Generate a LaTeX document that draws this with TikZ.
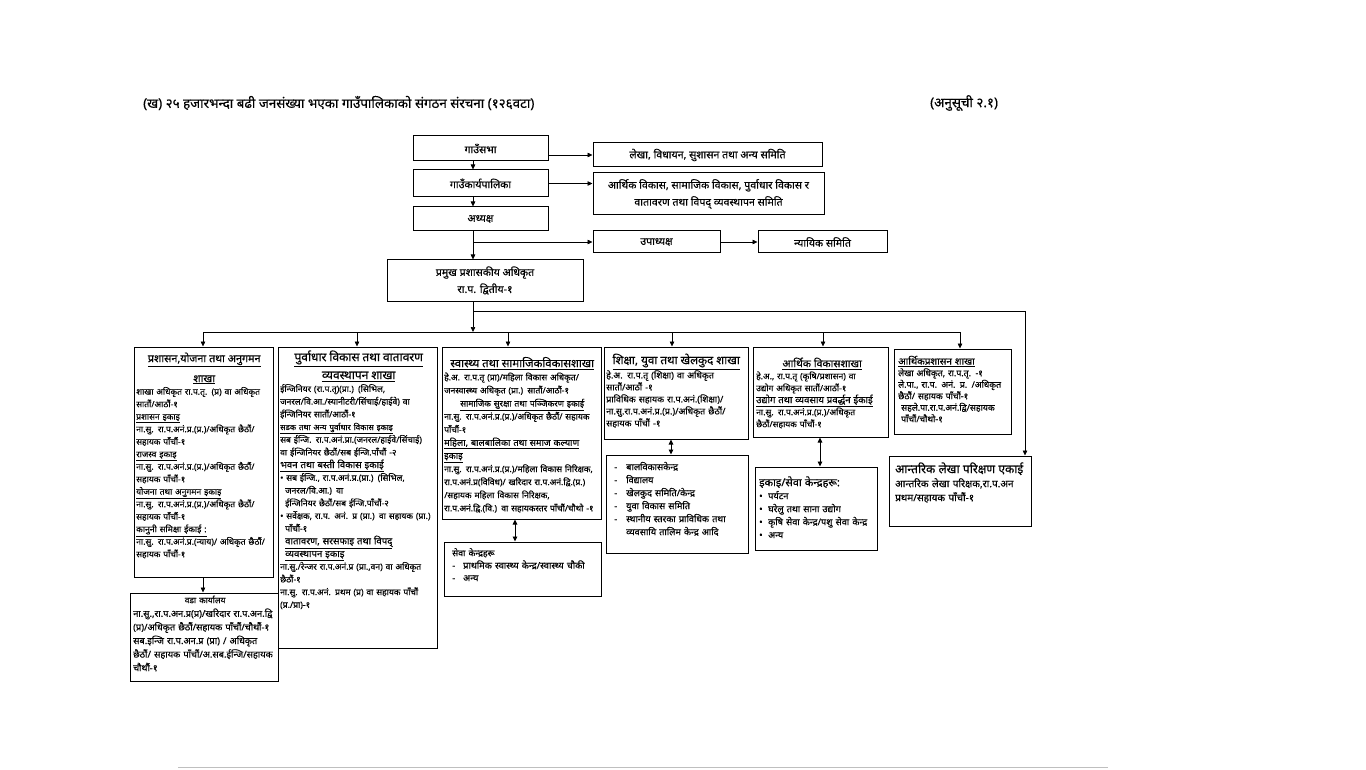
\documentclass[tikz,border=0pt]{standalone}
\usepackage{fontspec}
\setmainfont[Script=Devanagari, FakeBold=0.3]{Noto Sans}
\usetikzlibrary{arrows.meta,fit}
\lineskiplimit=-100pt
\newcommand\ul[1]{\underline{#1}}
\newcommand\bul[1]{\textbf{\underline{#1}}}
\newcommand\fl{\rule{0pt}{12pt}}
\newcommand\fs[2]{\fontsize{#1}{#2}\selectfont}
\newcommand\cl[3]{{\centering\fontsize{#1}{#2}\selectfont #3\par}}
\newcommand\sz[3]{{\fontsize{#1}{#2}\selectfont #3}}
\newcommand\ind{\hspace*{5pt}}
\newcommand\dsh{\makebox[12pt][l]{-}}
\newcommand\bt{\makebox[9pt][l]{•}}
\begin{document}
\begin{tikzpicture}[x=1pt,y=-1pt,
 box/.style={draw, line width=1pt, inner sep=0pt},
 txt/.style={anchor=north west, inner sep=0pt, align=left},
 lab/.style={inner sep=0pt, font=\fs{10.6}{17}, align=center},
 arr/.style={-{Triangle[length=5pt,width=4.5pt]}, line width=0.7pt},
 darr/.style={{Triangle[length=5pt,width=4.5pt]}-{Triangle[length=5pt,width=4.5pt]}, line width=0.9pt}]
\useasboundingbox (0,0) rectangle (1366,770);
\fill[white] (0,0) rectangle (1366,770);
\draw[gray!50, line width=0.8pt] (178,767) -- (1108,767);

% title
\node[anchor=west, inner sep=0pt, font=\fs{13.4}{16}] (title) at (143,103) {(ख) २५ हजारभन्दा बढी जनसंख्या भएका गाउँपालिकाको संगठन संरचना (१२६वटा)};
\node[anchor=west, inner sep=0pt, font=\fs{13.4}{16}] (anusuchi) at (930,103) {(अनुसूची २.१)};

% top boxes
\node[box, fit={(413,136) (548,161)}] (sabha) {};
\node[lab] at (sabha) {गाउँसभा};
\node[box, fit={(413,170) (548,197)}] (karya) {};
\node[lab] at (karya) {गाउँकार्यपालिका};
\node[box, fit={(413,207) (548,231)}] (adh) {};
\node[lab] at (adh) {अध्यक्ष};
\node[box, fit={(593,143) (822,167)}] (lekha) {};
\node[lab] at (lekha) {लेखा, विधायन, सुशासन तथा अन्य समिति};
\node[box, fit={(593,173) (824,215)}] (samiti) {};
\node[lab] at (samiti) {आर्थिक विकास, सामाजिक विकास, पुर्वाधार विकास र\\वातावरण तथा विपद् व्यवस्थापन समिति};
\node[box, fit={(593,231) (720,253)}] (upa) {};
\node[lab] at (upa) {उपाध्यक्ष};
\node[box, fit={(758,231) (887,253)}] (nyayik) {};
\node[lab] at (nyayik) {न्यायिक समिति};
\node[box, fit={(387,260) (583,301)}] (pramukh) {};
\node[lab] at (pramukh) {प्रमुख प्रशासकीय अधिकृत\\रा.प. द्वितीय-१};

\coordinate (cx) at (473,0);
\coordinate (jr) at (473,311);
\coordinate (rx) at (1025,0);
\draw[arr] (sabha.south -| cx) -- (karya.north -| cx);
\draw[arr] (karya.south -| cx) -- (adh.north -| cx);
\draw[arr] (adh.south -| cx) -- (pramukh.north -| cx);
\draw[arr] (sabha.east |- lekha.west) -- (lekha.west);
\draw[arr] (karya.east) -- (karya.east -| samiti.west);
\draw[arr] (cx |- upa.west) -- (upa.west);
\draw[arr] (upa.east) -- (nyayik.west);

% branch boxes
\node[box, fit={(134,347) (273,577)}] (b1) {};
\node[box, fit={(278,347) (437,648)}] (b2) {};
\node[box, fit={(442,347) (601,519)}] (b3) {};
\node[box, fit={(604,347) (748,439)}] (b4) {};
\node[box, fit={(753,347) (888,437)}] (b5) {};
\node[box, fit={(894,349) (1011,434)}] (b6) {};
\node[box, fit={(889,456) (1031,526)}] (antarik) {};
\node[box, fit={(606,455) (748,553)}] (bal) {};
\node[box, fit={(755,467) (877,550)}] (ikai) {};
\node[box, fit={(444,542) (601,596)}] (seva) {};
\node[box, fit={(130,593) (278,681)}] (wada) {};

% connectors
\coordinate (bus) at (0,332);
\draw[arr] (pramukh.south -| cx) -- (cx |- bus);
\draw[line width=0.7pt] (203,332) -- (960,332);
\draw[arr] (jr) -| (rx |- antarik.north);
\foreach \x/\n in {203/b1, 357/b2, 508/b3, 672/b4, 823/b5, 960/b6}
  \draw[arr] (\x,332) -- (\x,0 |- \n.north);
\draw[darr] (671,0 |- b4.south) -- (671,0 |- bal.north);
\draw[darr] (820,0 |- b5.south) -- (820,0 |- ikai.north);
\draw[darr] (515,0 |- b3.south) -- (515,0 |- seva.north);
\draw[arr] (203,0 |- b1.south) -- (203,0 |- wada.north);

% box 1
\node[txt, text width=136, font=\fs{8.6}{12.5}] (t1) at (136,350) {%
\cl{10.8}{20}{\fl\ul{प्रशासन,योजना तथा अनुगमन}\\\ul{शाखा}}
शाखा अधिकृत रा.प.तृ. (प्र) वा अधिकृत\\
सातौं/आठौं-१\\
\bul{प्रशासन इकाइ}\\
ना.सु. रा.प.अनं.प्र.(प्र.)/अधिकृत छैठौं/\\
सहायक पाँचौं-१\\
\bul{राजस्व इकाइ}\\
ना.सु. रा.प.अनं.प्र.(प्र.)/अधिकृत छैठौं/\\
सहायक पाँचौं-१\\
\bul{योजना तथा अनुगमन इकाइ}\\
ना.सु. रा.प.अनं.प्र.(प्र.)/अधिकृत छैठौं/\\
सहायक पाँचौं-१\\
\bul{कानुनी समिक्षा ईकाई :}\\
ना.सु. रा.प.अनं.प्र.(न्याय)/ अधिकृत छैठौं/\\
सहायक पाँचौं-१};

% box 2
\node[txt, text width=157, font=\fs{8.6}{12.7}] (t2) at (280,349) {%
\cl{12}{18}{\fl\ul{पुर्वाधार विकास तथा वातावरण}\\\ul{व्यवस्थापन शाखा}}
ईन्जिनियर (रा.प.तृ)(प्रा.) (सिभिल,\\
जनरल/वि.आ./स्यानीटरी/सिंचाई/हाईवे) वा\\
ईन्जिनियर सातौं/आठौं-१\\
\sz{8}{12}{\bul{सडक तथा अन्य पुर्वाधार विकास इकाइ}}\\
सब ईन्जि. रा.प.अनं.प्रा.(जनरल/हाईवे/सिंचाई)\\
वा ईन्जिनियर छैठौं/सब ईन्जि.पाँचौं -२\\
\sz{9.6}{12}{\bul{भवन तथा बस्ती विकास इकाई}}\\
• सब ईन्जि., रा.प.अनं.प्र.(प्रा.) (सिभिल,\\
\ind जनरल/वि.आ.) वा\\
\ind ईन्जिनियर छैठौं/सब ईन्जि.पाँचौं-२\\
• सर्वेक्षक, रा.प. अनं. प्र (प्रा.) वा सहायक (प्रा.)\\
\ind पाँचौं-१\\
\ind\sz{9.6}{12}{\bul{वातावरण, सरसफाइ तथा विपद्}}\\
\ind\sz{9.6}{12}{\bul{व्यवस्थापन इकाइ}}\\
ना.सु./रेन्जर रा.प.अनं.प्र (प्रा.,वन) वा अधिकृत\\
छैठौं-१\\
ना.सु. रा.प.अनं. प्रथम (प्र) वा सहायक पाँचौं\\
(प्र./प्रा)-१};

% box 3
\node[txt, text width=156, font=\fs{8.6}{13.1}] (t3) at (444,355) {%
\cl{11.4}{14}{\fl\ul{स्वास्थ्य तथा सामाजिकविकासशाखा}}
हे.अ. रा.प.तृ (प्रा)/महिला विकास अधिकृत/\\
जनस्वास्थ्य अधिकृत (प्रा.) सातौं/आठौं-१\par
\cl{8.6}{13.1}{\bul{सामाजिक सुरक्षा तथा पञ्जिकरण इकाई}}
ना.सु. रा.प.अनं.प्र.(प्र.)/अधिकृत छैठौं/ सहायक\\
पाँचौं-१\\
\sz{9.2}{12}{\bul{महिला, बालबालिका तथा समाज कल्याण}}\\
\sz{9.2}{12}{\bul{इकाइ}}\\
ना.सु. रा.प.अनं.प्र.(प्र.)/महिला विकास निरिक्षक,\\
रा.प.अनं.प्र(विविध)/ खरिदार रा.प.अनं.द्वि.(प्र.)\\
/सहायक महिला विकास निरिक्षक,\\
रा.प.अनं.द्वि.(वि.) वा सहायकस्तर पाँचौं/चौथो -१};

% box 4
\node[txt, text width=140, font=\fs{9}{12}] (t4) at (606,352) {%
\cl{11.7}{14}{\fl\ul{शिक्षा, युवा तथा खेलकुद शाखा}}
हे.अ. रा.प.तृ (शिक्षा) वा अधिकृत\\
सातौं/आठौं -१\\
प्राविधिक सहायक रा.प.अनं.(शिक्षा)/\\
ना.सु.रा.प.अनं.प्र.(प्र.)/अधिकृत छैठौं/\\
सहायक पाँचौं -१};

% box 5
\node[txt, text width=132, font=\fs{8.6}{12}] (t5) at (756,355) {%
\cl{10.6}{14}{\fl\ul{आर्थिक विकासशाखा}}
हे.अ., रा.प.तृ (कृषि/प्रशासन) वा\\
उद्योग अधिकृत सातौं/आठौं-१\\
\sz{9.6}{12}{\bul{उद्योग तथा व्यवसाय प्रवर्द्धन ईकाई}}\\
ना.सु. रा.प.अनं.प्र.(प्र.)/अधिकृत\\
छैठौं/सहायक पाँचौं-१};

% box 6
\node[txt, text width=113, font=\fs{8.8}{11.5}] (t6) at (898,352.5) {%
\fl\sz{9.9}{12}{\bul{आर्थिकप्रशासन शाखा}}\\
लेखा अधिकृत, रा.प.तृ. -१\\
ले.पा., रा.प. अनं. प्र. /अधिकृत\\
छैठौं/ सहायक पाँचौं-१\\
\hspace*{3pt}सहले.पा.रा.प.अनं.द्वि/सहायक\\
\hspace*{3pt}पाँचौं/चौथो-१};

% antarik
\node[txt, text width=134, font=\fs{10}{14}] (t7) at (895,461) {%
\fl\sz{12}{14}{आन्तरिक लेखा परिक्षण एकाई}\\
आन्तरिक लेखा परिक्षक,रा.प.अन\\
प्रथम/सहायक पाँचौं-१};

% bal
\node[txt, text width=134, font=\fs{9.2}{13}] (t8) at (614,458) {%
\fl\dsh बालविकासकेन्द्र\\
\dsh विद्यालय\\
\dsh खेलकुद समिति/केन्द्र\\
\dsh युवा विकास समिति\\
\dsh स्थानीय स्तरका प्राविधिक तथा\\
\hspace*{12pt}व्यवसायि तालिम केन्द्र आदि};

% ikai
\node[txt, text width=118, font=\fs{9.2}{13}] (t9) at (759,474) {%
\fl\sz{11}{13}{इकाइ/सेवा केन्द्रहरू:}\\
\bt पर्यटन\\
\bt घरेलु तथा साना उद्योग\\
\bt कृषि सेवा केन्द्र/पशु सेवा केन्द्र\\
\bt अन्य};

% seva
\node[txt, text width=146, font=\fs{9.3}{12.5}] (t10) at (452,544) {%
\fl\sz{8.9}{12}{सेवा केन्द्रहरू}\\
\makebox[11pt][l]{-}प्राथमिक स्वास्थ्य केन्द्र/स्वास्थ्य चौकी\\
\makebox[11pt][l]{-}अन्य};

% wada
\node[txt, text width=144, font=\fs{9.3}{13.6}] (t11) at (133,591) {%
\cl{8.4}{13}{\fl\textbf{वडा कार्यालय}}
ना.सु.,रा.प.अन.प्र(प्र)/खरिदार रा.प.अन.द्वि\\
(प्र)/अधिकृत छैठौं/सहायक पाँचौं/चौथौं-१\\
सब.इन्जि रा.प.अन.प्र (प्रा) / अधिकृत\\
छैठौं/ सहायक पाँचौं/अ.सब.ईन्जि/सहायक\\
चौथौं-१};
\end{tikzpicture}
\end{document}
